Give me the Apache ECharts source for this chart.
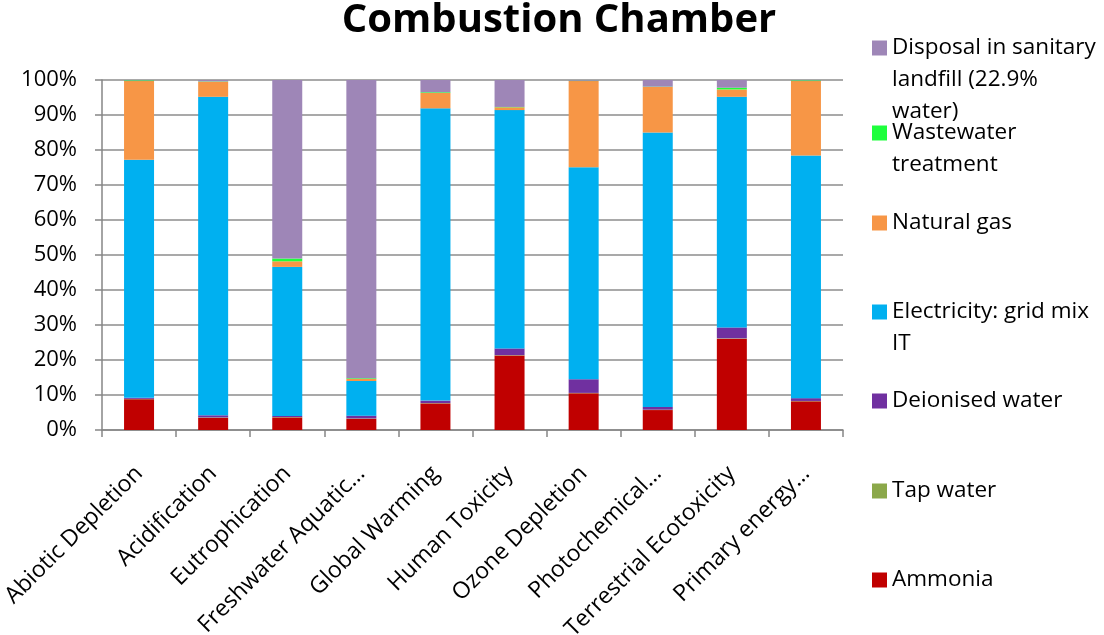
<!DOCTYPE html>
<html>
<head>
<meta charset="utf-8">
<script src="https://cdn.jsdelivr.net/npm/echarts@6/dist/echarts.min.js"></script>
<style>html,body{margin:0;padding:0;background:#fff}#c{width:1104px;height:635px}</style>
</head>
<body>
<div id="c"></div>
<script>
const categories = ['Abiotic Depletion','Acidification','Eutrophication','Freshwater Aquatic\u2026','Global Warming','Human Toxicity','Ozone Depletion','Photochemical\u2026','Terrestrial Ecotoxicity','Primary energy\u2026'];
const ammonia     = [8.8, 3.5, 3.6, 3.2, 7.6, 21.3, 10.5, 5.7, 26.1, 8.2];
const tapWater    = [0.1, 0.1, 0.1, 0.1, 0.1, 0.1, 0.1, 0.1, 0.1, 0.1];
const deionised   = [0.3, 0.6, 0.3, 0.8, 0.7, 1.9, 3.9, 0.8, 3.1, 0.8];
const electricity = [68.0, 91.0, 42.6, 9.9, 83.5, 68.1, 60.6, 78.4, 65.9, 69.3];
const naturalGas  = [22.5, 4.3, 1.6, 0.6, 4.4, 0.8, 24.6, 13.0, 2.1, 21.3];
const wastewater  = [0.2, 0.1, 0.8, 0.2, 0.2, 0.1, 0.1, 0.1, 0.5, 0.2];
const disposal    = [0.1, 0.4, 51.0, 85.2, 3.5, 7.7, 0.2, 1.9, 2.2, 0.1];
const yTicks = [0,10,20,30,40,50,60,70,80,90,100];

const FONT = '"Open Sans"';
const seriesDefs = [
  {name:'Ammonia', data: ammonia, color:'#C00000', label:['Ammonia'], cy:580},
  {name:'Tap water', data: tapWater, color:'#8BA84A', label:['Tap water'], cy:491},
  {name:'Deionised water', data: deionised, color:'#7030A0', label:['Deionised water'], cy:401},
  {name:'Electricity: grid mix IT', data: electricity, color:'#00B0F0', label:['Electricity: grid mix','IT'], cy:312},
  {name:'Natural gas', data: naturalGas, color:'#F79646', label:['Natural gas'], cy:223},
  {name:'Wastewater treatment', data: wastewater, color:'#1EFF3C', label:['Wastewater','treatment'], cy:133},
  {name:'Disposal in sanitary landfill (22.9% water)', data: disposal, color:'#9E86B7', label:['Disposal in sanitary','landfill (22.9%','water)'], cy:48}
];
const LH = 32;
const legends = seriesDefs.map(s => {
  const n = s.label.length;
  const txt = '\n'.repeat(n-1) + s.label.join('\n');
  return {
    data:[s.name], orient:'vertical', left:872, top: s.cy - (2*n-1)*LH/2, padding:0,
    icon:'rect', itemWidth:15, itemHeight:15, itemGap:0,
    formatter: () => txt,
    textStyle:{fontFamily:FONT, fontSize:22.5, color:'#000', lineHeight:LH}
  };
});

const chart = echarts.init(document.getElementById('c'), null, {renderer:'canvas'});
chart.setOption({
  animation:false,
  title:{text:'Combustion Chamber', left:554, textAlign:'center', top:-4,
    textStyle:{fontFamily:FONT, fontWeight:'bold', fontSize:40, color:'#000'}},
  legend: legends,
  grid:{left:102, right:261, top:80, bottom:205, containLabel:false, outerBoundsMode:'none'},
  xAxis:{type:'category', data:categories,
    axisLine:{lineStyle:{color:'#868686', width:1.5}},
    axisTick:{show:true, length:7, lineStyle:{color:'#868686', width:1.5}},
    axisLabel:{rotate:45, interval:0, fontFamily:FONT, fontSize:23, color:'#000', margin:40}},
  yAxis:{type:'value', min:0, max:100, interval:10,
    axisLine:{show:true, lineStyle:{color:'#868686', width:1.5}},
    axisTick:{show:true, length:7, lineStyle:{color:'#868686', width:1.5}},
    splitLine:{lineStyle:{color:'#8c8c8c', width:1.5}},
    axisLabel:{formatter:'{value}%', fontFamily:FONT, fontSize:22, color:'#000', margin:25}},
  series: seriesDefs.map(s => ({
    name:s.name, type:'bar', stack:'total', data:s.data, barWidth:30,
    itemStyle:{color:s.color}
  }))
});
</script>
</body>
</html>
